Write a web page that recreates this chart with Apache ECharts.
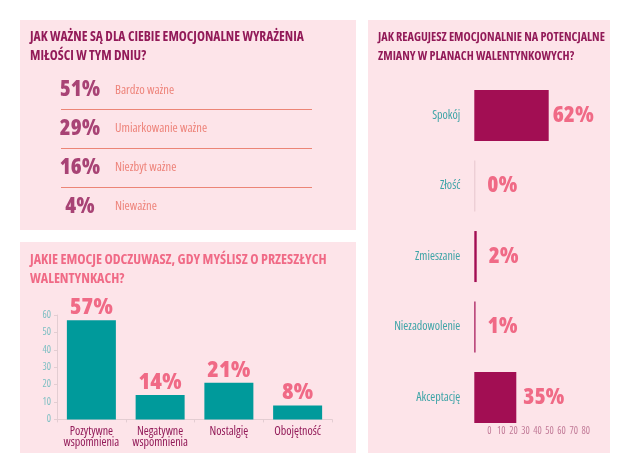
<!DOCTYPE html>
<html>
<head>
<meta charset="utf-8">
<script src="https://cdn.jsdelivr.net/npm/echarts@6/dist/echarts.min.js"></script>
<style>
html,body{margin:0;padding:0;background:#ffffff;}
#c{width:630px;height:473px;}
</style>
</head>
<body>
<div id="c"></div>
<script>
// ---- data ----
var title1 = 'JAK WAŻNE SĄ DLA CIEBIE EMOCJONALNE WYRAŻENIA\nMIŁOŚCI W TYM DNIU?';
var importanceLabels = ['Bardzo ważne', 'Umiarkowanie ważne', 'Niezbyt ważne', 'Nieważne'];
var importanceValues = [51, 29, 16, 4];

var title2 = 'JAKIE EMOCJE ODCZUWASZ, GDY MYŚLISZ O PRZESZŁYCH\nWALENTYNKACH?';
var pastCategories = ['Pozytywne\nwspomnienia', 'Negatywne\nwspomnienia', 'Nostalgię', 'Obojętność'];
var pastValues = [57, 14, 21, 8];
var pastTicks = [0, 10, 20, 30, 40, 50, 60];

var title3 = 'JAK REAGUJESZ EMOCJONALNIE NA POTENCJALNE\nZMIANY W PLANACH WALENTYNKOWYCH?';
var reactCategories = ['Spokój', 'Złość', 'Zmieszanie', 'Niezadowolenie', 'Akceptację'];
var reactValues = [62, 0, 2, 1, 35];
var reactTicks = [0, 10, 20, 30, 40, 50, 60, 70, 80];

// ---- style ----
var FONT = '"Open Sans", "Roboto", sans-serif';
var PANEL = '#fde4e9';
var MAGENTA = '#921a58';
var BARMAG = '#a20e53';
var PINK = '#f06a86';
var CORAL = '#ea6a5e';
var CORAL_LINE = '#ec8576';
var TEAL = '#009a9b';

function ts(size, weight, color, extra) {
  var o = {fontFamily: FONT, fontStyle: 'condensed', fontWeight: weight, fontSize: size, color: color};
  for (var k in extra) { o[k] = extra[k]; }
  return o;
}

var chart = echarts.init(document.getElementById('c'), null, {renderer: 'canvas'});

var option = {
  backgroundColor: '#ffffff',
  animation: false,
  graphic: [
    {type: 'rect', z: -10, shape: {x: 20, y: 20, width: 336, height: 210}, style: {fill: PANEL}},
    {type: 'rect', z: -10, shape: {x: 20, y: 242, width: 336, height: 211}, style: {fill: PANEL}},
    {type: 'rect', z: -10, shape: {x: 368, y: 20, width: 242, height: 433}, style: {fill: PANEL}}
  ],
  title: [
    {text: title1, left: 30, top: 28, padding: 0, textStyle: ts(13.5, 'bold', MAGENTA, {lineHeight: 19})},
    {text: title2, left: 30, top: 251, padding: 0, textStyle: ts(14, 'bold', PINK, {lineHeight: 18.5})},
    {text: title3, left: 378, top: 28, padding: 0, textStyle: ts(12.2, 'bold', MAGENTA, {lineHeight: 19})}
  ],
  grid: [
    {left: 61, top: 70.7, width: 251, height: 155},
    {left: 57, top: 315, width: 275, height: 104.4},
    {left: 474.3, top: 80.3, width: 96, height: 352.5},
    {left: 489.3, top: 400, width: 96.4, height: 19}
  ],
  xAxis: [
    {gridIndex: 0, type: 'value', min: 0, max: 1, show: false},
    {gridIndex: 1, type: 'category', data: pastCategories,
      axisLine: {lineStyle: {color: '#e3cdd2'}},
      axisTick: {show: true, length: 3, lineStyle: {color: '#e3cdd2'}},
      axisLabel: ts(12, 'normal', MAGENTA, {lineHeight: 11.5, margin: 6, interval: 0})},
    {gridIndex: 2, type: 'value', min: 0, max: 80, show: false},
    {gridIndex: 3, type: 'value', min: 0, max: 80, interval: 10,
      axisLine: {show: false}, axisTick: {show: false}, splitLine: {show: false},
      axisLabel: ts(10, 'normal', '#c27b98', {margin: 7,
        formatter: function (v) { return reactTicks.indexOf(v) >= 0 ? String(v) : ''; }})}
  ],
  yAxis: [
    {gridIndex: 0, type: 'category', inverse: true, data: importanceLabels,
      axisLine: {show: false}, axisTick: {show: false}, axisLabel: {show: false},
      splitLine: {show: true, showMinLine: false, showMaxLine: false, lineStyle: {color: CORAL_LINE, width: 1}}},
    {gridIndex: 1, type: 'value', min: 0, max: 60, interval: 10,
      axisLine: {show: true, lineStyle: {color: '#e3cdd2'}},
      axisTick: {show: true, length: 3, lineStyle: {color: '#e3cdd2'}},
      splitLine: {show: false},
      axisLabel: ts(10, 'normal', '#7dbfc3', {margin: 6,
        formatter: function (v) { return pastTicks.indexOf(v) >= 0 ? String(v) : ''; }})},
    {gridIndex: 2, type: 'category', inverse: true, data: reactCategories,
      axisLine: {show: false}, axisTick: {show: false},
      axisLabel: ts(12, 'normal', '#3ea4a7', {margin: 14})},
    {gridIndex: 3, type: 'value', show: false}
  ],
  series: [
    {
      type: 'scatter', xAxisIndex: 0, yAxisIndex: 0, symbolSize: 0,
      data: importanceValues.map(function (v, i) { return [0, i, v]; }),
      label: ts(22, 800, MAGENTA, {show: true, position: 'inside', offset: [19, 0], align: 'center', verticalAlign: 'middle',
        formatter: function (p) { return p.data[2] + '%'; }})
    },
    {
      type: 'scatter', xAxisIndex: 0, yAxisIndex: 0, symbolSize: 0,
      data: importanceLabels.map(function (n, i) { return [0, i, n]; }),
      label: ts(12.5, 'normal', CORAL, {show: true, position: 'inside', offset: [54, 0], align: 'left', verticalAlign: 'middle',
        formatter: function (p) { return p.data[2]; }})
    },
    {
      type: 'bar', xAxisIndex: 1, yAxisIndex: 1, data: pastValues, barWidth: 49,
      itemStyle: {color: TEAL},
      label: ts(23.5, 800, PINK, {show: true, position: 'top', distance: 1, formatter: '{c}%'})
    },
    {
      type: 'bar', xAxisIndex: 2, yAxisIndex: 2, barWidth: 51, barMinHeight: 1,
      data: reactValues.map(function (v) {
        return {
          value: v,
          itemStyle: {color: v === 0 ? '#e6c6cd' : BARMAG},
          label: {distance: v < 5 ? 12 : (v > 50 ? 4 : 7)}
        };
      }),
      label: ts(22.5, 800, PINK, {show: true, position: 'right', formatter: '{c}%'})
    }
  ]
};
chart.setOption(option);
</script>
</body>
</html>
